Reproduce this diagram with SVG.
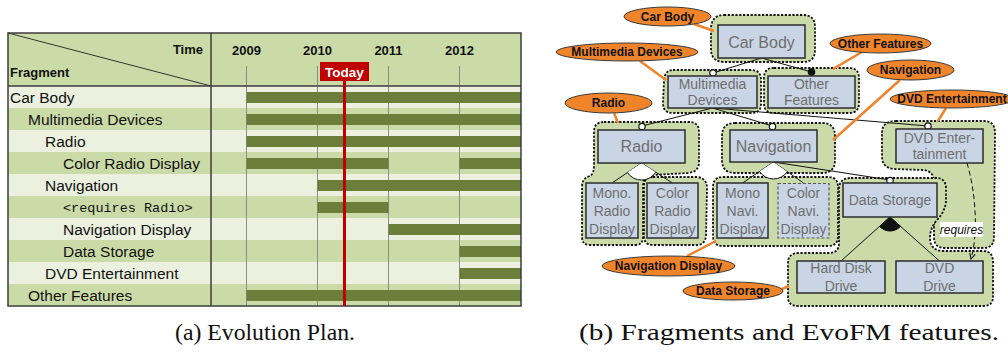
<svg xmlns="http://www.w3.org/2000/svg" width="1008" height="352" viewBox="0 0 1008 352">
  <defs>
    <style>
      .rowL { fill: #ebf0df; }
      .rowG { fill: #cbdba8; }
      .bar { fill: #6b7f3a; }
      .grid { stroke: #8c8c8c; stroke-width: 1; }
      .frag { font-family: "Liberation Sans", Arial, sans-serif; font-size: 15.5px; fill: #111; }
      .mono { font-family: "Liberation Mono", "Courier New", monospace; font-size: 13.5px; fill: #111; }
      .hdr { font-family: "Liberation Sans", Arial, sans-serif; font-size: 13px; font-weight: bold; fill: #111; }
      .blob { fill: #cbdaa9; stroke: #111; stroke-width: 1.8; stroke-dasharray: 2.2 1.6; }
      .box { fill: #c9d5e5; stroke: #2b2b2b; stroke-width: 1.5; }
      .boxd { fill: #c9d5e5; stroke: #555; stroke-width: 1.2; stroke-dasharray: 3 2; }
      .ft { font-family: "Liberation Sans", Arial, sans-serif; fill: #6e6e6e; text-anchor: middle; }
      .f16 { font-size: 16px; }
      .f14 { font-size: 14px; }
      .tag { fill: #f0842a; stroke: #3a3a3a; stroke-width: 1; }
      .tagt { font-family: "Liberation Sans", Arial, sans-serif; font-size: 12px; font-weight: bold; fill: #111; text-anchor: middle; }
      .olink { stroke: #f0822a; stroke-width: 2.5; fill: none; }
      .edge { stroke: #111; stroke-width: 1; fill: none; }
      .cap { font-family: "Liberation Serif", "Times New Roman", serif; font-size: 24px; fill: #111; }
    </style>
    <marker id="arrow" viewBox="0 0 10 10" refX="9" refY="5" markerWidth="7" markerHeight="7" orient="auto">
      <path d="M1,1 L9,5 L1,9" fill="none" stroke="#111" stroke-width="1.6"/>
    </marker>
  </defs>

  <rect width="1008" height="352" fill="#ffffff"/>

  <!-- (a) evolution plan table -->
  <g id="plan">
    <rect x="8" y="33" width="513" height="53" class="rowG"/>
    <rect x="8" y="86" width="513" height="22" class="rowL"/>
    <rect x="8" y="108" width="513" height="22" class="rowG"/>
    <rect x="8" y="130" width="513" height="22" class="rowL"/>
    <rect x="8" y="152" width="513" height="22" class="rowG"/>
    <rect x="8" y="174" width="513" height="22" class="rowL"/>
    <rect x="8" y="196" width="513" height="22" class="rowG"/>
    <rect x="8" y="218" width="513" height="22" class="rowL"/>
    <rect x="8" y="240" width="513" height="22" class="rowG"/>
    <rect x="8" y="262" width="513" height="22" class="rowL"/>
    <rect x="8" y="284" width="513" height="22" class="rowG"/>

    <!-- year grid -->
    <line x1="246.5" y1="66" x2="246.5" y2="306" class="grid"/>
    <line x1="317.5" y1="66" x2="317.5" y2="306" class="grid"/>
    <line x1="388.5" y1="66" x2="388.5" y2="306" class="grid"/>
    <line x1="459.5" y1="66" x2="459.5" y2="306" class="grid"/>

    <!-- lifetime bars -->
    <rect x="246.5" y="92" width="274.5" height="11" class="bar"/>
    <rect x="246.5" y="114" width="274.5" height="11" class="bar"/>
    <rect x="246.5" y="136" width="274.5" height="11" class="bar"/>
    <rect x="246.5" y="158" width="142" height="11" class="bar"/>
    <rect x="459.5" y="158" width="61.5" height="11" class="bar"/>
    <rect x="317.5" y="180" width="203.5" height="11" class="bar"/>
    <rect x="317.5" y="202" width="71" height="11" class="bar"/>
    <rect x="388.5" y="224" width="132.5" height="11" class="bar"/>
    <rect x="459.5" y="246" width="61.5" height="11" class="bar"/>
    <rect x="459.5" y="268" width="61.5" height="11" class="bar"/>
    <rect x="246.5" y="290" width="274.5" height="11" class="bar"/>

    <!-- header -->
    <line x1="8" y1="33" x2="211" y2="86" stroke="#333" stroke-width="1"/>
    <text x="203" y="54" class="hdr" text-anchor="end">Time</text>
    <text x="10" y="77" class="hdr">Fragment</text>
    <text x="246.5" y="55" class="hdr" text-anchor="middle">2009</text>
    <text x="317.5" y="55" class="hdr" text-anchor="middle">2010</text>
    <text x="388.5" y="55" class="hdr" text-anchor="middle">2011</text>
    <text x="459.5" y="55" class="hdr" text-anchor="middle">2012</text>

    <!-- fragment names -->
    <text x="10" y="102.5" class="frag">Car Body</text>
    <text x="28" y="124.5" class="frag">Multimedia Devices</text>
    <text x="45" y="146.5" class="frag">Radio</text>
    <text x="63" y="168.5" class="frag">Color Radio Display</text>
    <text x="45" y="190.5" class="frag">Navigation</text>
    <text x="63" y="211.5" class="mono">&lt;requires Radio&gt;</text>
    <text x="63" y="234.5" class="frag">Navigation Display</text>
    <text x="63" y="256.5" class="frag">Data Storage</text>
    <text x="45" y="278.5" class="frag">DVD Entertainment</text>
    <text x="28" y="300.5" class="frag">Other Features</text>

    <!-- frame -->
    <line x1="8" y1="86" x2="521" y2="86" stroke="#3c3c3c" stroke-width="1.5"/>
    <line x1="211" y1="33" x2="211" y2="306" stroke="#3c3c3c" stroke-width="1.5"/>
    <rect x="8" y="33" width="513" height="273" fill="none" stroke="#3c3c3c" stroke-width="1.5"/>

    <!-- current date marker -->
    <line x1="344.5" y1="80" x2="344.5" y2="306" stroke="#c00000" stroke-width="3"/>
    <rect x="320" y="62" width="49" height="19" fill="#c00000"/>
    <text x="344.5" y="76.5" class="hdr" text-anchor="middle" style="fill:#fff; font-size:13.5px">Today</text>
  </g>

  <!-- (b) fragments as dashed regions -->
  <g id="fragments">
    <path id="frag-carbody" class="blob" d="M724,15 L803,15 Q815,15 815,27 L815,50 Q815,62 803,62 L723,62 Q711,61 711,49 L711,28 Q712,15 724,15 Z"/>
    <path id="frag-multimedia" class="blob" d="M673,70 L751,70 Q761,70 761,80 L761,104 Q761,113 751,113 L673,113 Q663,113 663,103 L664,80 Q665,70 673,70 Z"/>
    <path id="frag-other" class="blob" d="M774,68 L849,68 Q859,68 859,78 L859,103 Q859,113 849,113 L774,113 Q764,113 764,103 L764,78 Q764,68 774,68 Z"/>
    <path id="frag-radio" class="blob" d="M604,122 L689,122 Q699,122 699,132 L699,162 Q699,172 688,173 L652,175 Q643,176 643,186 L643,237 Q643,245 635,245 L590,245 Q582,245 582,237 L582,187 Q582,178 590,176 Q594,174 594,165 L594,132 Q594,122 604,122 Z"/>
    <path id="frag-colorradio" class="blob" d="M653,177 L697,177 Q707,178 707,188 L706,236 Q705,245 696,245 L653,245 Q644,245 644,236 L644,186 Q644,177 653,177 Z"/>
    <path id="frag-navigation" class="blob" d="M735,123 L822,123 Q835,123 835,136 L835,160 Q835,173 822,173 L735,173 Q722,173 722,160 L722,136 Q722,123 735,123 Z"/>
    <path id="frag-navdisplay" class="blob" d="M723,177 L828,177 Q838,177 838,187 L838,236 Q838,246 828,246 L723,246 Q713,246 713,236 L713,187 Q713,177 723,177 Z"/>
    <path id="frag-dvd" class="blob" d="M896,121 L984,121 Q995,121 995,133 L994,237 Q994,248 983,248 L945,248 Q934,248 934,237 L934,182 Q934,171 923,170 L894,169 Q882,168 882,156 L882,133 Q882,121 896,121 Z"/>
    <path id="frag-datastorage" class="blob" d="M851,178 L936,178 Q946,178 946,189 L946,200 Q946,210 937,220 Q930,228 930,238 Q930,251 944,251 L983,251 Q993,251 993,262 L993,297 Q993,306 983,306 L798,306 Q788,306 788,297 L788,263 Q788,253 799,253 L829,253 Q839,253 839,243 L839,189 Q839,178 851,178 Z"/>
  </g>

  <!-- feature model connectors -->
  <g id="connectors">
    <line x1="761.5" y1="58" x2="713" y2="73" class="edge"/>
    <line x1="761.5" y1="58" x2="811.5" y2="72" class="edge"/>
    <line x1="712.5" y1="108" x2="642" y2="126" class="edge"/>
    <line x1="712.5" y1="108" x2="772.5" y2="126" class="edge"/>
    <line x1="712.5" y1="108" x2="928" y2="126" class="edge"/>
    <line x1="773.5" y1="162" x2="890" y2="180" class="edge"/>

    <!-- alternative group under Radio -->
    <line x1="641.5" y1="163" x2="612" y2="183" class="edge"/>
    <line x1="641.5" y1="163" x2="672.5" y2="183" class="edge"/>
    <path d="M641.5,163 L627.4,172.6 A17,17 0 0 0 655.8,172.2 Z" fill="#fff"/>
    <path d="M627.4,172.6 A17,17 0 0 0 655.8,172.2" class="edge"/>

    <!-- alternative group under Navigation -->
    <line x1="773.5" y1="162" x2="742.5" y2="183" class="edge"/>
    <line x1="773.5" y1="162" x2="803.5" y2="183" class="edge"/>
    <path d="M773.5,162 L759.4,171.5 A17,17 0 0 0 787.4,171.7 Z" fill="#fff"/>
    <path d="M759.4,171.5 A17,17 0 0 0 787.4,171.7" class="edge"/>

    <!-- or group under Data Storage -->
    <line x1="890" y1="217" x2="841" y2="261" class="edge"/>
    <line x1="890" y1="217" x2="939.5" y2="261" class="edge"/>
    <path d="M890,217 L879.6,226.4 A14,14 0 0 0 900.5,226.3 Z" fill="#111" stroke="#111" stroke-width="1"/>

    <!-- cross-tree constraint -->
    <path d="M967,163 C975,190 979,230 971,259" class="edge" stroke-dasharray="5 3" marker-end="url(#arrow)"/>
    <rect x="940" y="222" width="43" height="15" fill="#fff"/>
    <text x="961.5" y="233.5" font-family="Liberation Sans, Arial, sans-serif" font-size="12" font-style="italic" fill="#111" text-anchor="middle">requires</text>

    <!-- optional / mandatory markers -->
    <circle cx="713" cy="73" r="3.2" fill="#fff" stroke="#111" stroke-width="1.2"/>
    <circle cx="811.5" cy="72" r="3.2" fill="#111" stroke="#111" stroke-width="1.2"/>
    <circle cx="642" cy="126.5" r="3.2" fill="#fff" stroke="#111" stroke-width="1.2"/>
    <circle cx="772.5" cy="126.5" r="3.2" fill="#fff" stroke="#111" stroke-width="1.2"/>
    <circle cx="928" cy="126" r="3.2" fill="#fff" stroke="#111" stroke-width="1.2"/>
    <circle cx="890" cy="180.5" r="3.2" fill="#fff" stroke="#111" stroke-width="1.2"/>

    <!-- fragment tag links -->
    <line x1="694" y1="24" x2="714" y2="31" class="olink"/>
    <line x1="640" y1="61" x2="666" y2="80" class="olink"/>
    <line x1="862" y1="52" x2="833" y2="69" class="olink"/>
    <line x1="900" y1="80" x2="833" y2="140" class="olink"/>
    <line x1="946" y1="108" x2="938" y2="121" class="olink"/>
    <line x1="614" y1="113" x2="618" y2="123" class="olink"/>
    <line x1="687" y1="256" x2="716" y2="241" class="olink"/>
    <line x1="782" y1="289" x2="789" y2="286" class="olink"/>
  </g>

  <!-- features -->
  <g id="f-carbody"><rect x="718" y="25" width="87" height="33" class="box"/><text x="761.5" y="47.5" class="ft f16">Car Body</text></g>
  <g id="f-multimedia"><rect x="668" y="76" width="89" height="32" class="box"/><text x="712.5" y="89" class="ft f14">Multimedia</text><text x="712.5" y="105" class="ft f14">Devices</text></g>
  <g id="f-other"><rect x="768" y="76" width="87" height="32" class="box"/><text x="811.5" y="89" class="ft f14">Other</text><text x="811.5" y="105" class="ft f14">Features</text></g>
  <g id="f-radio"><rect x="598" y="130" width="87" height="33" class="box"/><text x="641.5" y="152" class="ft f16">Radio</text></g>
  <g id="f-navigation"><rect x="730" y="130" width="87" height="32" class="box"/><text x="773.5" y="152" class="ft f16">Navigation</text></g>
  <g id="f-dvdent"><rect x="896" y="129" width="87" height="34" class="box"/><text x="939.5" y="142.5" class="ft f14">DVD Enter-</text><text x="939.5" y="159" class="ft f14">tainment</text></g>
  <g id="f-monoradio"><rect x="586" y="183" width="52" height="55" class="box"/><text x="612" y="197.5" class="ft f14">Mono.</text><text x="612" y="215.5" class="ft f14">Radio</text><text x="612" y="234" class="ft f14">Display</text></g>
  <g id="f-colorradio"><rect x="647" y="183" width="51" height="55" class="box"/><text x="672.5" y="197.5" class="ft f14">Color</text><text x="672.5" y="215.5" class="ft f14">Radio</text><text x="672.5" y="234" class="ft f14">Display</text></g>
  <g id="f-mononavi"><rect x="717" y="183" width="51" height="55" class="box"/><text x="742.5" y="197.5" class="ft f14">Mono</text><text x="742.5" y="215.5" class="ft f14">Navi.</text><text x="742.5" y="234" class="ft f14">Display</text></g>
  <g id="f-colornavi"><rect x="778" y="183.5" width="51" height="54.5" class="boxd"/><text x="803.5" y="197.5" class="ft f14">Color</text><text x="803.5" y="215.5" class="ft f14">Navi.</text><text x="803.5" y="234" class="ft f14">Display</text></g>
  <g id="f-datastorage"><rect x="843" y="183" width="94" height="34" class="box"/><text x="890" y="205" class="ft f14">Data Storage</text></g>
  <g id="f-harddisk"><rect x="797" y="261" width="88" height="32" class="box"/><text x="841" y="273" class="ft f14">Hard Disk</text><text x="841" y="290.5" class="ft f14">Drive</text></g>
  <g id="f-dvddrive"><rect x="896" y="261" width="87" height="32" class="box"/><text x="939.5" y="273" class="ft f14">DVD</text><text x="939.5" y="290.5" class="ft f14">Drive</text></g>

  <!-- fragment tags -->
  <g id="t-carbody"><ellipse cx="667.5" cy="16.5" rx="43.5" ry="9.5" class="tag"/><text x="667.5" y="20.8" class="tagt">Car Body</text></g>
  <g id="t-multimedia"><ellipse cx="627" cy="52" rx="71" ry="9" class="tag"/><text x="627" y="56.3" class="tagt">Multimedia Devices</text></g>
  <g id="t-other"><ellipse cx="880.5" cy="43.5" rx="50.5" ry="9.5" class="tag"/><text x="880.5" y="47.8" class="tagt">Other Features</text></g>
  <g id="t-navigation"><ellipse cx="910.5" cy="70" rx="43.5" ry="10" class="tag"/><text x="910.5" y="74.3" class="tagt">Navigation</text></g>
  <g id="t-dvdent"><ellipse cx="952" cy="99" rx="62" ry="9" class="tag"/><text x="952" y="103.3" class="tagt">DVD Entertainment</text></g>
  <g id="t-radio"><ellipse cx="608.5" cy="103" rx="43.5" ry="10" class="tag"/><text x="608.5" y="107.3" class="tagt">Radio</text></g>
  <g id="t-navdisplay"><ellipse cx="668.5" cy="266" rx="66.5" ry="10" class="tag"/><text x="668.5" y="270.3" class="tagt">Navigation Display</text></g>
  <g id="t-datastorage"><ellipse cx="733" cy="291" rx="50" ry="9" class="tag"/><text x="733" y="295.3" class="tagt">Data Storage</text></g>

  <!-- captions -->
  <text x="175" y="340" class="cap" textLength="180" lengthAdjust="spacingAndGlyphs">(a) Evolution Plan.</text>
  <text x="579" y="340" class="cap" textLength="420" lengthAdjust="spacingAndGlyphs">(b) Fragments and EvoFM features.</text>
</svg>
